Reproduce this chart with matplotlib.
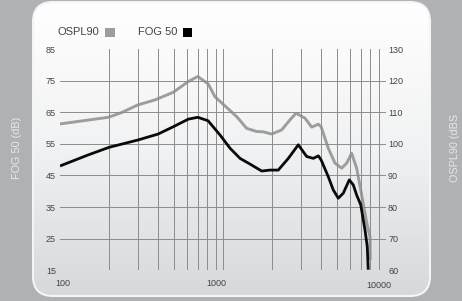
import numpy as np
import matplotlib
matplotlib.use("Agg")
import matplotlib.pyplot as plt
from matplotlib.patches import FancyBboxPatch
from matplotlib.colors import LinearSegmentedColormap

plt.rcParams['font.family'] = ['Liberation Sans', 'DejaVu Sans']

# ---- data ----
ospl_freq = [100, 198, 239, 300, 383, 495, 612, 700, 810, 893, 1028, 1214, 1397, 1609,
             1767, 1988, 2290, 2577, 2805, 3186, 3500, 3845, 4000, 4425, 4864, 5345,
             5739, 6155, 6607, 7000, 7618, 7980, 8000]
ospl_db = [106.3, 108.4, 109.9, 112.3, 113.9, 116.3, 119.7, 121.3, 119.0, 114.9, 112.0,
           108.6, 104.9, 103.9, 103.8, 103.1, 104.4, 107.6, 109.7, 108.1, 105.3, 106.2,
           105.4, 98.6, 93.9, 92.3, 93.9, 97.0, 92.3, 85.4, 74.9, 70.6, 63.2]
fog_freq = [100, 149, 200, 300, 400, 495, 612, 700, 810, 959, 1105, 1272, 1464, 1727,
            1941, 2183, 2516, 2897, 3260, 3580, 3845, 4000, 4425, 4750, 5097, 5470,
            5955, 6300, 6607, 7000, 7430, 7675, 7780]
fog_db = [48.0, 51.5, 53.9, 56.2, 58.1, 60.4, 62.8, 63.4, 62.3, 57.8, 53.6, 50.4, 48.6,
          46.4, 46.7, 46.7, 50.4, 54.7, 51.0, 50.4, 51.2, 49.9, 44.6, 40.4, 37.8, 39.4,
          43.6, 42.0, 38.8, 35.7, 27.8, 22.5, 15.2]
left_ticks = [85, 75, 65, 55, 45, 35, 25, 15]
right_ticks = [130, 120, 110, 100, 90, 80, 70, 60]
x_ticks = [100, 1000, 10000]
x_labels = ["100", "1000", "10000"]
legend_labels = ["OSPL90", "FOG 50"]
left_title = "FOG 50 (dB)"
right_title = "OSPL90 (dBS"

W, H = 462, 301
fig = plt.figure(figsize=(W / 100, H / 100), dpi=100)
fig.patch.set_facecolor("#b0b1b4")

# background panel with gradient
bg = fig.add_axes([0, 0, 1, 1])
bg.set_xlim(0, W)
bg.set_ylim(H, 0)
bg.axis("off")
panel = FancyBboxPatch((33, 2), 397, 294, boxstyle="round,pad=0,rounding_size=20",
                       facecolor="none", edgecolor="#f4f5f6", linewidth=1.5, zorder=3)
bg.add_patch(panel)
grad = np.linspace(0, 1, 256).reshape(-1, 1)
cmap = LinearSegmentedColormap.from_list("g", ["#ffffff", "#f1f2f3", "#d6d8db"])
im = bg.imshow(grad, cmap=cmap, extent=[33, 430, 296, 2], aspect="auto", zorder=1)
im.set_clip_path(panel)

def fx(px):
    return px / W

def fy(py):
    return 1 - py / H

ax = fig.add_axes([fx(60), fy(270.3), fx(386) - fx(60), fy(49) - fy(270.3)])
ax.patch.set_alpha(0)
ax.set_xscale("log")
ax.set_xlim(100, 10000)
ax.set_ylim(15, 85)
for s in ax.spines.values():
    s.set_visible(False)

gc = "#8c8c8c"
for v in [25, 35, 45, 55, 65, 75]:
    ax.axhline(v, color=gc, lw=0.7, zorder=1)
for dec in [100, 1000]:
    for m in range(2, 10):
        ax.axvline(dec * m, color=gc, lw=0.7, zorder=1)
ax.axvline(1000, color=gc, lw=0.7, zorder=1)

ax2 = ax.twinx()
ax2.set_ylim(60, 130)
for s in ax2.spines.values():
    s.set_visible(False)

ax2.plot(ospl_freq, ospl_db, color="#9d9d9d", lw=2.1, solid_capstyle="butt", zorder=3)
ax.plot(fog_freq, fog_db, color="#0a0a0a", lw=2.0, solid_capstyle="butt", zorder=4)
ax.set_zorder(2)
ax2.set_zorder(1)
ax2.patch.set_alpha(0)

tc = "#444444"
ax.set_yticks(left_ticks)
ax.set_yticklabels([str(t) for t in left_ticks], fontsize=6.5, color=tc)
ax.tick_params(axis="y", length=0, pad=3)
ax2.set_yticks(right_ticks)
ax2.set_yticklabels([str(t) for t in right_ticks], fontsize=6.5, color=tc)
ax2.tick_params(axis="y", length=0, pad=1.5)
ax.set_xticks([])
ax.set_xticks([], minor=True)

x_offsets = [(3, -13), (-7, -13), (-7, -15)]
for val, lab, (dx, dy) in zip(x_ticks, x_labels, x_offsets):
    ax.annotate(lab, xy=(val, 0), xycoords=("data", "axes fraction"),
                xytext=(dx, dy), textcoords="offset pixels",
                ha="center", va="center", fontsize=6.5, color=tc)

# legend
fig.text(fx(57), fy(32), legend_labels[0], fontsize=8, color=tc, ha="left", va="center")
fig.text(fx(138), fy(32), legend_labels[1], fontsize=8, color=tc, ha="left", va="center")
bg.add_patch(plt.Rectangle((105, 28), 10, 9, facecolor="#9d9d9d", edgecolor="none", zorder=4))
bg.add_patch(plt.Rectangle((183, 28), 9, 9, facecolor="#000000", edgecolor="none", zorder=4))

# side titles
fig.text(fx(17), fy(148), left_title, rotation=90, fontsize=7.8, color="#e6e7e8",
         ha="center", va="center")
fig.text(fx(455), fy(148), right_title, rotation=90, fontsize=7.8, color="#e6e7e8",
         ha="center", va="center")

fig.savefig("out.png", dpi=100, facecolor=fig.get_facecolor())
